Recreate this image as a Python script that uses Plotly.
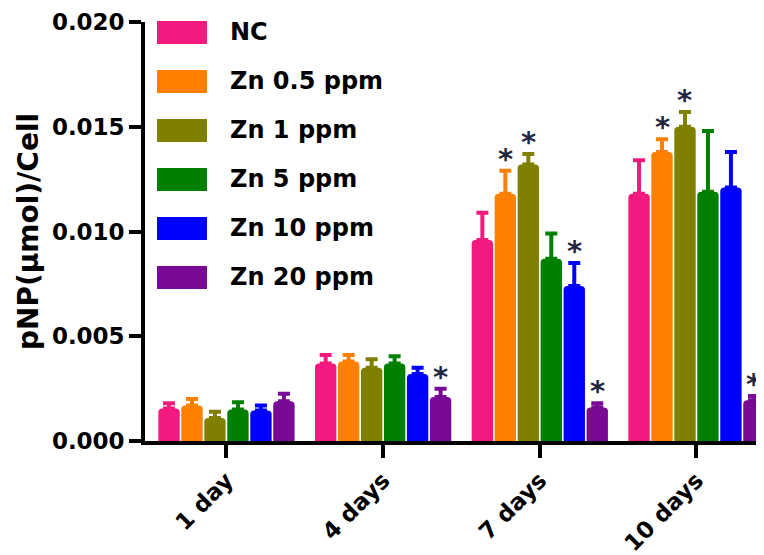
import plotly.graph_objects as go

days = ["1 day", "4 days", "7 days", "10 days"]
series_names = ["NC", "Zn 0.5 ppm", "Zn 1 ppm", "Zn 5 ppm", "Zn 10 ppm", "Zn 20 ppm"]
colors = ["#F2197F", "#FF8000", "#808000", "#008000", "#0000FF", "#780A96"]

nc_vals = [0.00155, 0.0037, 0.0096, 0.0118]
zn05_vals = [0.0017, 0.0038, 0.0118, 0.0138]
zn1_vals = [0.0011, 0.0035, 0.0132, 0.0150]
zn5_vals = [0.0015, 0.0037, 0.0087, 0.0119]
zn10_vals = [0.00145, 0.0032, 0.0074, 0.0121]
zn20_vals = [0.0019, 0.0021, 0.0016, 0.00195]

nc_err = [0.00025, 0.0004, 0.0013, 0.0016]
zn05_err = [0.0003, 0.0003, 0.0011, 0.0006]
zn1_err = [0.0003, 0.0004, 0.0005, 0.0007]
zn5_err = [0.00035, 0.00035, 0.0012, 0.0029]
zn10_err = [0.00025, 0.0003, 0.0011, 0.0017]
zn20_err = [0.00035, 0.0004, 0.0002, 0.0002]

nc_sig = [0, 0, 0, 0]
zn05_sig = [0, 0, 1, 1]
zn1_sig = [0, 0, 1, 1]
zn5_sig = [0, 0, 0, 0]
zn10_sig = [0, 0, 1, 0]
zn20_sig = [0, 1, 1, 1]

y_ticks = [0.000, 0.005, 0.010, 0.015, 0.020]
y_tick_text = ["0.000", "0.005", "0.010", "0.015", "0.020"]

values = [nc_vals, zn05_vals, zn1_vals, zn5_vals, zn10_vals, zn20_vals]
errors = [nc_err, zn05_err, zn1_err, zn5_err, zn10_err, zn20_err]
sigs = [nc_sig, zn05_sig, zn1_sig, zn5_sig, zn10_sig, zn20_sig]

FONT = "DejaVu Sans"
# page body has an 8px margin: the figure is sized/placed to compensate
OFF = 8
W, H = 764 - OFF, 555 - OFF
ML, MR, MT, MB = 145 - OFF, 0, 22 - OFF, 114
BARGAP = 0.12
BARGROUPGAP = 0.07

fig = go.Figure()
for name, col, v, e in zip(series_names, colors, values, errors):
    fig.add_trace(go.Bar(
        x=days, y=v, name=name,
        marker=dict(color=col, line=dict(width=0), cornerradius=4),
        error_y=dict(type="data", array=e, arrayminus=[0] * len(e), symmetric=False,
                     color=col, thickness=4, width=6),
        showlegend=False,
    ))

# significance stars
n = len(series_names)
slot = (1 - BARGAP) / n
annotations = []
for j, (v, e, s) in enumerate(zip(values, errors, sigs)):
    for i in range(len(days)):
        if s[i]:
            annotations.append(dict(
                x=i + (j - (n - 1) / 2) * slot, y=v[i] + e[i], xref="x", yref="y",
                text="*", showarrow=False, yanchor="bottom", yshift=-6,
                borderpad=0,
                font=dict(family=FONT, size=29, color="#1F2640", weight="bold"),
            ))

# custom legend (pixel positions of the reference page)
plot_w = W - ML - MR
plot_h = H - MT - MB
def px_x(p):
    return (p - OFF - ML) / plot_w
def px_y(p):
    return (H + OFF - MB - p) / plot_h

shapes = []
for k, (name, col) in enumerate(zip(series_names, colors)):
    cy = 32.4 + 49 * k
    shapes.append(dict(type="rect", xref="paper", yref="paper",
                       x0=px_x(157), x1=px_x(207), y0=px_y(cy + 11.5), y1=px_y(cy - 11.5),
                       fillcolor=col, line=dict(width=0), layer="above"))
    annotations.append(dict(x=px_x(228), y=px_y(cy), xref="paper", yref="paper",
                            text=name, showarrow=False, xanchor="left", yanchor="middle",
                            font=dict(family=FONT, size=24, color="black", weight="bold")))

fig.update_layout(
    width=W, height=H,
    margin=dict(l=ML, r=MR, t=MT, b=MB),
    plot_bgcolor="white", paper_bgcolor="white",
    barmode="group", bargap=BARGAP, bargroupgap=BARGROUPGAP,
    shapes=shapes, annotations=annotations,
    xaxis=dict(
        range=[-0.52, 3.431], showline=True, linecolor="black", linewidth=3.5,
        ticks="outside", ticklen=13, tickwidth=3.5, tickcolor="black",
        tickangle=-45, tickfont=dict(family=FONT, size=23, color="black", weight="bold"),
        showgrid=False, zeroline=False, automargin=False,
    ),
    yaxis=dict(
        range=[0, 0.020], showline=True, linecolor="black", linewidth=3.5,
        ticks="outside", ticklen=12, tickwidth=3.5, tickcolor="black",
        tickvals=y_ticks, ticktext=y_tick_text,
        tickfont=dict(family=FONT, size=23, color="black", weight="bold"),
        showgrid=False, zeroline=False, automargin=False,
        title=dict(text="pNP(μmol)/Cell", font=dict(family=FONT, size=28, color="black", weight="bold"), standoff=6),
    ),
)

fig.write_html("out.html")
